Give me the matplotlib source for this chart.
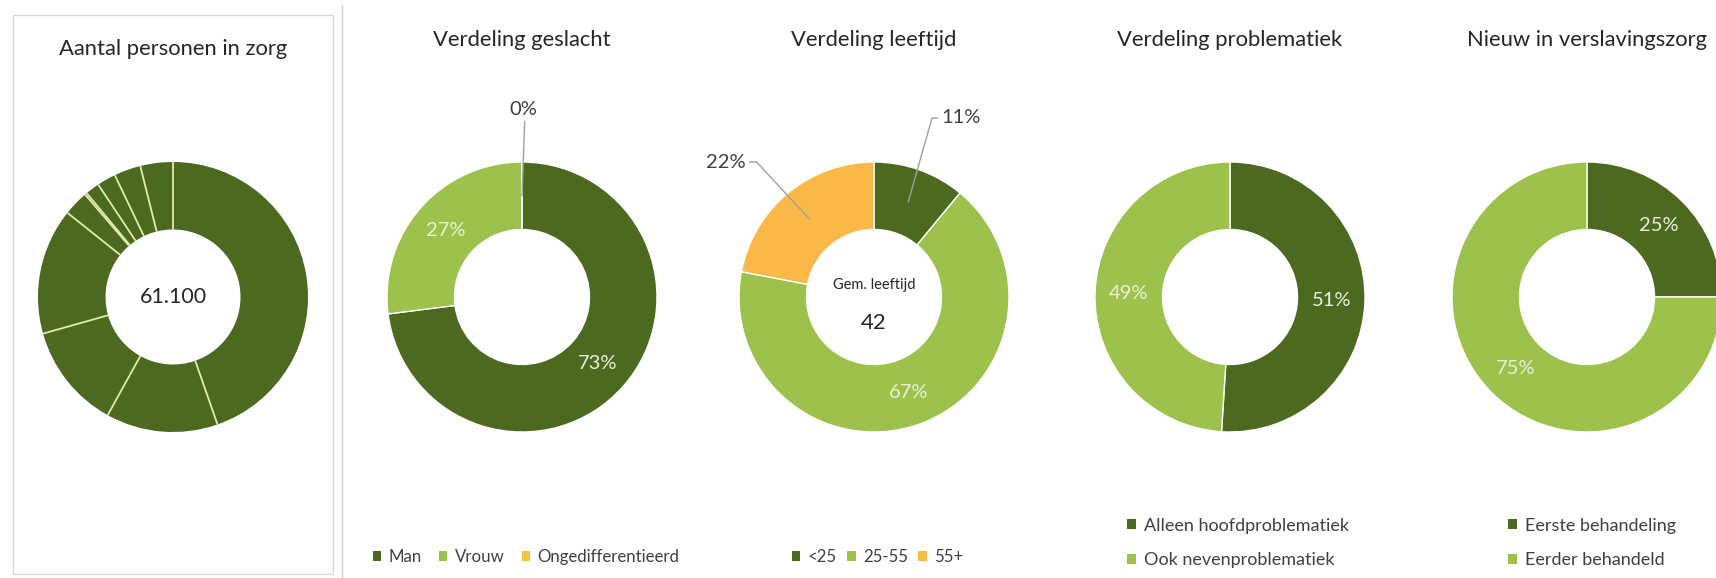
import numpy as np
import matplotlib
matplotlib.use("Agg")
import matplotlib.pyplot as plt
from matplotlib.patches import Patch, Rectangle
from matplotlib.lines import Line2D

plt.rcParams['font.family'] = ['Lato', 'DejaVu Sans']

W, H = 1716, 578

# Data
zorg_segments = [44.7, 13.4, 12.6, 15.1, 3.0, 0.25, 1.7, 2.25, 3.2, 3.9]
zorg_total = "61.100"

geslacht_labels = ["Man", "Vrouw", "Ongedifferentieerd"]
geslacht_values = [73, 27, 0]

leeftijd_labels = ["<25", "25-55", "55+"]
leeftijd_values = [11, 67, 22]
gem_leeftijd = 42

problematiek_labels = ["Alleen hoofdproblematiek", "Ook nevenproblematiek"]
problematiek_values = [51, 49]

nieuw_labels = ["Eerste behandeling", "Eerder behandeld"]
nieuw_values = [25, 75]

titles = ["Aantal personen in zorg", "Verdeling geslacht", "Verdeling leeftijd",
          "Verdeling problematiek", "Nieuw in verslavingszorg"]

# Colours
DARK = '#4B6A20'
LIGHT = '#9CC24B'
ORANGE = '#F9B848'
YELLOW = '#F2C43C'
IN_TXT = '#E9F1DA'
TXT = '#404040'
LEADER = '#A0A0A0'

centers_x = [173, 522, 874, 1230, 1587]
title_y = [49, 40, 40, 40, 40]
CY = 297
R = 135
PAD = 1.25

fig = plt.figure(figsize=(W / 100, H / 100), dpi=100)


def fx(x):
    return x / W


def fy(y):
    return 1 - y / H


def donut_ax(cx):
    half = R * PAD
    return fig.add_axes([fx(cx - half), fy(CY + half), 2 * half / W, 2 * half / H])


def finish(ax):
    ax.set_xlim(-PAD, PAD)
    ax.set_ylim(-PAD, PAD)
    ax.axis('off')


def mid_points(values, r):
    vals = np.array(values, float)
    frac = vals / vals.sum()
    ends = np.cumsum(frac) * 360
    starts = ends - frac * 360
    theta = np.radians(90 - (starts + ends) / 2)
    return r * np.cos(theta), r * np.sin(theta)


def donut(ax, values, colors, edge='white', lw=1.0):
    ax.pie(values, colors=colors, startangle=90, counterclock=False, radius=1,
           wedgeprops=dict(width=0.5, edgecolor=edge, linewidth=lw))


def legend(labels, colors, x, y, ncol, size, colspace=1.0):
    handles = [Patch(facecolor=c, edgecolor='none') for c in colors]
    fig.legend(handles, labels, loc='center left', bbox_to_anchor=(fx(x), fy(y)),
               ncol=ncol, frameon=False, fontsize=size, handlelength=0.5,
               handleheight=0.5, handletextpad=0.45, columnspacing=colspace,
               labelspacing=1.05, borderpad=0, borderaxespad=0, labelcolor=TXT)


# Frames
fig.add_artist(Rectangle((fx(13), fy(574)), 320 / W, 559 / H, transform=fig.transFigure,
                         fill=False, ec='#D9D9D9', lw=1))
fig.add_artist(Line2D([fx(342), fx(342)], [0, fy(5)], transform=fig.transFigure,
                      color='#D0D0D0', lw=1))

# Titles
for t, cx, ty in zip(titles, centers_x, title_y):
    fig.text(fx(cx), fy(ty), t, ha='center', va='center', fontsize=15.8, color='#262626')

# 1. Aantal personen in zorg
ax = donut_ax(centers_x[0])
donut(ax, zorg_segments, [DARK] * len(zorg_segments), edge='none', lw=0)
bounds = np.radians(90 - np.cumsum(zorg_segments) / np.sum(zorg_segments) * 360)
for b in bounds:
    ax.plot([0.5 * np.cos(b), np.cos(b)], [0.5 * np.sin(b), np.sin(b)],
            color='#E0EAB0', lw=1.3, solid_capstyle='butt')
ax.text(0, 0, zorg_total, ha='center', va='center', fontsize=15.5, color='#262626')
finish(ax)

# 2. Verdeling geslacht
ax = donut_ax(centers_x[1])
donut(ax, geslacht_values, [DARK, LIGHT, YELLOW])
xs, ys = mid_points(geslacht_values, 0.75)
for i in range(2):
    ax.text(xs[i], ys[i], f"{geslacht_values[i]}%", ha='center', va='center',
            fontsize=14.5, color=IN_TXT)
ax.plot([xs[2], xs[2] + 0.02], [ys[2], 1.30], color=LEADER, lw=1, clip_on=False)
ax.text(0.01, 1.39, f"{geslacht_values[2]}%", ha='center', va='center', fontsize=14.5, color=TXT)
finish(ax)
legend(geslacht_labels, [DARK, LIGHT, YELLOW], 373, 557, 3, 12.1, 1.0)

# 3. Verdeling leeftijd
ax = donut_ax(centers_x[2])
donut(ax, leeftijd_values, [DARK, LIGHT, ORANGE])
xs, ys = mid_points(leeftijd_values, 0.75)
ax.text(xs[1], ys[1], f"{leeftijd_values[1]}%", ha='center', va='center',
        fontsize=14.5, color=IN_TXT)
ax.plot([xs[0], 0.43, 0.47], [ys[0], 1.326, 1.326], color=LEADER, lw=1, clip_on=False)
ax.text(0.50, 1.326, f"{leeftijd_values[0]}%", ha='left', va='center', fontsize=14.5, color=TXT)
ax.plot([xs[2], -0.87, -0.92], [ys[2], 1.0, 1.0], color=LEADER, lw=1, clip_on=False)
ax.text(-0.95, 1.0, f"{leeftijd_values[2]}%", ha='right', va='center', fontsize=14.5, color=TXT)
ax.text(0, 0.09, "Gem. leeftijd", ha='center', va='center', fontsize=10.5, color='#262626')
ax.text(0, -0.19, str(gem_leeftijd), ha='center', va='center', fontsize=16, color='#262626')
finish(ax)
legend(leeftijd_labels, [DARK, LIGHT, ORANGE], 792, 557, 3, 12.1, 0.6)

# 4. Verdeling problematiek
ax = donut_ax(centers_x[3])
donut(ax, problematiek_values, [DARK, LIGHT])
xs, ys = mid_points(problematiek_values, 0.75)
for i in range(2):
    ax.text(xs[i], ys[i], f"{problematiek_values[i]}%", ha='center', va='center',
            fontsize=14.5, color=IN_TXT)
finish(ax)
legend(problematiek_labels, [DARK, LIGHT], 1127, 543, 1, 13.0)

# 5. Nieuw in verslavingszorg
ax = donut_ax(centers_x[4])
donut(ax, nieuw_values, [DARK, LIGHT])
xs, ys = mid_points(nieuw_values, 0.75)
for i in range(2):
    ax.text(xs[i], ys[i], f"{nieuw_values[i]}%", ha='center', va='center',
            fontsize=14.5, color=IN_TXT)
finish(ax)
legend(nieuw_labels, [DARK, LIGHT], 1508, 543, 1, 13.0)

fig.savefig("out.png", dpi=100)
